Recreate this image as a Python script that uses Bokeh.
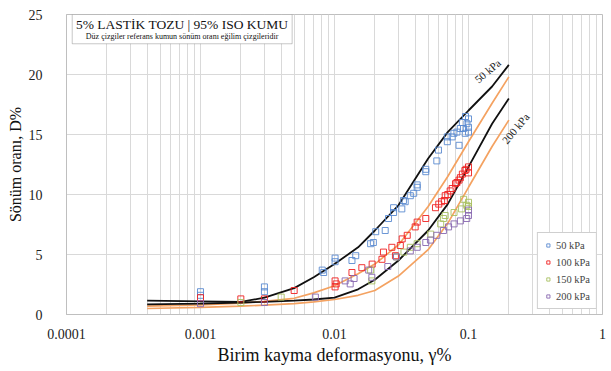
import math

from bokeh.plotting import figure
from bokeh.models import (FixedTicker, CustomJSTickFormatter, Legend, LegendItem,
                          Label, BoxAnnotation, Range1d, Title)
from bokeh.embed import file_html
from bokeh.resources import INLINE

# ---- measured damping ratios (D %) against shear strain (gamma %) ----
strain_50 = [0.001, 0.001, 0.003, 0.003, 0.0083, 0.0081, 0.0101, 0.0101, 0.0135, 0.0144,
             0.0186, 0.0195, 0.0203, 0.0239, 0.0253, 0.0276, 0.0276, 0.0318, 0.0327, 0.0337,
             0.0368, 0.039, 0.0414, 0.0414, 0.048, 0.048, 0.058, 0.0597, 0.0695, 0.0695,
             0.0755, 0.0778, 0.082, 0.085, 0.0868, 0.09, 0.0918, 0.0945, 0.095, 0.0973,
             0.1, 0.1, 0.1]
damp_50 = [1.9, 1.6, 2.3, 1.9, 3.5, 3.7, 4.4, 4.7, 4.5, 4.9,
           5.9, 6.0, 6.9, 7.0, 8.0, 8.5, 8.9, 8.8, 9.5, 9.4,
           9.9, 10.1, 10.6, 10.8, 11.9, 12.1, 12.8, 13.7, 14.4, 14.8,
           14.8, 15.1, 15.2, 14.1, 15.5, 16.0, 15.5, 15.1, 16.5, 15.9,
           16.3, 15.6, 15.2]

strain_100 = [0.001, 0.002, 0.003, 0.005, 0.0103, 0.0101, 0.0101, 0.0135, 0.016, 0.0191,
              0.0226, 0.0232, 0.0268, 0.0285, 0.031, 0.032, 0.0349, 0.04, 0.0414, 0.048,
              0.0567, 0.06, 0.063, 0.066, 0.067, 0.07, 0.073, 0.0755, 0.08, 0.082,
              0.085, 0.087, 0.09, 0.094, 0.096, 0.1, 0.1]
damp_100 = [1.4, 1.3, 1.3, 2.0, 2.55, 2.8, 2.3, 3.5, 3.9, 4.2,
            4.6, 5.2, 5.6, 4.9, 5.75, 6.3, 6.6, 7.3, 7.7, 8.0,
            8.9, 9.2, 9.4, 9.5, 9.9, 10.0, 10.3, 10.5, 10.9, 11.0,
            11.2, 11.4, 11.7, 12.0, 12.1, 12.3, 11.8]

strain_150 = [0.002, 0.004, 0.0186, 0.019, 0.029, 0.033, 0.0368, 0.0414, 0.0522, 0.062,
              0.065, 0.067, 0.078, 0.0888, 0.092, 0.097, 0.1, 0.1]
damp_150 = [1.0, 1.45, 3.7, 2.8, 4.8, 5.2, 5.6, 5.9, 6.7, 7.55,
            8.0, 8.25, 8.5, 8.8, 9.6, 9.1, 9.35, 9.0]

strain_200 = [0.001, 0.003, 0.0072, 0.012, 0.0131, 0.014, 0.018, 0.019, 0.025, 0.029,
              0.0368, 0.0414, 0.048, 0.052, 0.058, 0.065, 0.071, 0.078, 0.087, 0.097,
              0.1, 0.1]
damp_200 = [0.9, 1.0, 1.45, 2.8, 2.55, 3.0, 3.7, 3.1, 4.0, 4.8,
            5.3, 5.6, 6.0, 6.2, 6.6, 7.0, 7.3, 7.55, 7.8, 8.0,
            8.25, 8.7]

# ---- trend curves: mixture (black) and reference sand (orange) ----
curve_strain = [0.0004, 0.001, 0.002, 0.003, 0.005, 0.007, 0.01, 0.015, 0.02,
                0.03, 0.05, 0.07, 0.1, 0.15, 0.2]
mix_50 = [1.15, 1.1, 1.05, 1.4, 2.2, 3.1, 4.2, 5.6, 7.0, 9.1, 13.0, 15.2, 17.0, 19.0, 20.8]
mix_200 = [0.85, 0.9, 1.0, 1.05, 1.15, 1.25, 1.4, 2.1, 2.9, 4.5, 7.0, 9.2, 12.3, 15.9, 18.0]
ref_50 = [0.7, 0.8, 0.95, 1.1, 1.35, 1.8, 2.4, 3.4, 4.2, 5.8, 9.0, 11.5, 14.4, 17.6, 19.8]
ref_200 = [0.5, 0.6, 0.7, 0.78, 0.9, 1.05, 1.25, 1.6, 2.0, 3.2, 5.4, 7.6, 10.6, 14.0, 16.2]

major_x = [0.0001, 0.001, 0.01, 0.1, 1]
y_ticks = [0, 5, 10, 15, 20, 25]
series_names = ["50 kPa", "100 kPa", "150 kPa", "200 kPa"]

SERIF = "Liberation Serif"
GRID = "#D9D9D9"

p = figure(width=611, height=371, x_axis_type="log",
           x_range=Range1d(0.0001, 1), y_range=Range1d(0, 25),
           output_backend="svg", toolbar_location=None,
           min_border_left=66, min_border_right=9,
           min_border_top=14, min_border_bottom=57)
p.background_fill_color = "white"
p.border_fill_color = "white"
p.outline_line_color = "#BFBFBF"

minor_x = [m * d for d in major_x[:-1] for m in range(2, 10)]
p.xaxis.ticker = FixedTicker(ticks=major_x, minor_ticks=minor_x)
p.xaxis.formatter = CustomJSTickFormatter(code="return tick.toString();")
p.yaxis.ticker = FixedTicker(ticks=y_ticks)

for ax in (p.xaxis, p.yaxis):
    ax.axis_line_color = "#BFBFBF"
    ax.major_tick_line_color = None
    ax.minor_tick_line_color = None
    ax.major_label_text_font = SERIF
    ax.major_label_text_font_size = "14px"
    ax.major_label_text_color = "#222222"
p.xaxis.major_label_standoff = 8
p.yaxis.major_label_standoff = 18

p.xgrid.grid_line_color = GRID
p.xgrid.minor_grid_line_color = GRID
p.ygrid.grid_line_color = GRID

# axis titles as side-panel titles so they can be shifted along the axis
p.add_layout(Title(text="Sönüm oranı, D%", align="center", offset=36, standoff=4,
                   text_font=SERIF, text_font_size="16px", text_font_style="normal",
                   text_color="#111111"), "left")
p.add_layout(Title(text="Birim kayma deformasyonu, γ%", align="center", offset=13,
                   standoff=2, text_font=SERIF, text_font_size="18px",
                   text_font_style="normal", text_color="#111111"), "below")

# trend curves
p.line(curve_strain, ref_50, line_color="#F4A261", line_width=1.7)
p.line(curve_strain, ref_200, line_color="#F4A261", line_width=1.7)
p.line(curve_strain, mix_50, line_color="#111111", line_width=1.8)
p.line(curve_strain, mix_200, line_color="#111111", line_width=1.8)

# measured points
colors = ["#5B8BD0", "#F02020", "#A8C060", "#8868B0"]
data = [(strain_50, damp_50), (strain_100, damp_100),
        (strain_150, damp_150), (strain_200, damp_200)]
items = []
for name, col, (xs, ys) in zip(series_names, colors, data):
    r = p.scatter(xs, ys, marker="square", size=6, fill_color=None,
                  line_color=col, line_width=1, line_alpha=0.9)
    items.append(LegendItem(label=name, renderers=[r]))

legend = Legend(items=items, location="bottom_right", margin=5,
                label_text_font=SERIF, label_text_font_size="10.5px",
                label_height=12, glyph_height=10, glyph_width=8,
                spacing=5, padding=6, label_standoff=4,
                border_line_color="#A0A0A0", background_fill_color="white",
                background_fill_alpha=1)
p.add_layout(legend, "center")

# curve labels
p.add_layout(Label(x=0.139, y=20.3, text="50 kPa", angle=math.radians(40),
                   text_align="center", text_baseline="middle",
                   text_font=SERIF, text_font_size="11px", text_color="#222222"))
p.add_layout(Label(x=0.2245, y=15.5, text="200 kPa", angle=math.radians(50),
                   text_align="center", text_baseline="middle",
                   text_font=SERIF, text_font_size="11px", text_color="#222222"))

# title box
p.add_layout(BoxAnnotation(left=1.103e-4, right=4.83e-3, bottom=22.56, top=25,
                           fill_color="white", fill_alpha=1,
                           line_color="#444444", line_width=1))
p.add_layout(Label(x=7.29e-4, y=24.15, text="5% LASTİK TOZU | 95% ISO KUMU",
                   text_align="center", text_baseline="middle",
                   text_font=SERIF, text_font_size="13.5px", text_color="#111111"))
p.add_layout(Label(x=7.29e-4, y=23.2,
                   text="Düz çizgiler referans kumun sönüm oranı eğilim çizgileridir",
                   text_align="center", text_baseline="middle",
                   text_font=SERIF, text_font_size="8px", text_color="#111111"))

open("out.html", "w").write(file_html(p, INLINE))
